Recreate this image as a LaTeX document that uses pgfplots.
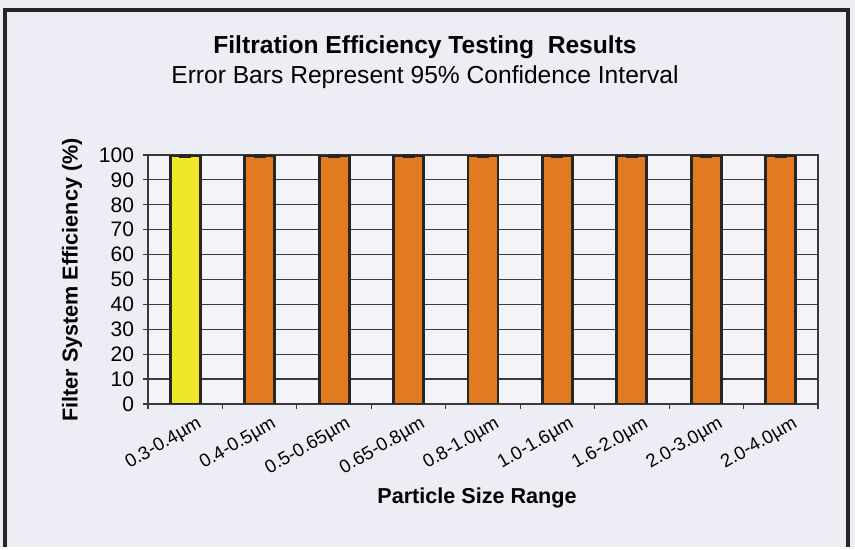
\documentclass[border=0pt]{standalone}
\usepackage{fontspec}
\setmainfont{Liberation Sans}
\usepackage{pgfplots}
\pgfplotsset{compat=1.18}
\definecolor{bgc}{HTML}{EDEEF5}
\definecolor{plotbg}{HTML}{F3F3F8}
\definecolor{baryellow}{HTML}{F0E62A}
\definecolor{barorange}{HTML}{E27A22}
\definecolor{gridc}{HTML}{3A3A3A}
\pgfplotsset{myerr/.style={error bars/.cd, y dir=both, y explicit,
  error bar style={line width=1.3pt, black!85},
  error mark options={line width=1.3pt, black!85, mark size=3pt, rotate=90}}}
\begin{document}
\begin{tikzpicture}
\fill[bgc] (0,0) rectangle (427.5pt,273.5pt);
\draw[line width=2.2pt, black!85] (2.5pt,0) -- (2.5pt,268.5pt) -- (424pt,268.5pt) -- (424pt,0);
\node[font=\bfseries\fontsize{12.3}{14}\selectfont] at (212.5pt,250pt) {Filtration Efficiency Testing\ \ Results};
\node[font=\fontsize{12.3}{14}\selectfont] at (212.5pt,235pt) {Error Bars Represent 95\% Confidence Interval};
\begin{axis}[
  at={(74pt,71.5pt)}, anchor=south west,
  scale only axis, width=335pt, height=124.5pt,
  xmin=-0.5, xmax=8.5, ymin=0, ymax=100,
  axis background/.style={fill=plotbg},
  axis line style={gridc, line width=0.6pt},
  ytick={0,10,...,100},
  ymajorgrids, grid style={gridc, line width=0.6pt},
  xtick={0,...,8},
  xticklabels={0.3-0.4µm,0.4-0.5µm,0.5-0.65µm,0.65-0.8µm,0.8-1.0µm,1.0-1.6µm,1.6-2.0µm,2.0-3.0µm,2.0-4.0µm},
  minor xtick={-0.5,0.5,...,8.5},
  xtick pos=bottom, ytick pos=left,
  major x tick style={draw=none},
  minor x tick style={gridc, line width=0.6pt},
  major y tick style={gridc, line width=0.6pt},
  tick align=outside, major tick length=2.5pt, minor tick length=2.5pt,
  /pgf/number format/assume math mode=true,
  yticklabel style={font=\fontsize{10.5}{12}\selectfont, xshift=-1pt},
  xticklabel style={font=\fontsize{9.3}{11}\selectfont, rotate=30, anchor=north east, xshift=6.5pt, yshift=-2pt},
  ybar, bar width=15pt, bar shift=0pt,
]
\addplot[fill=baryellow, draw=black!85, line width=1.4pt, myerr] coordinates {(0,99.6) +- (0,0.4)};
\addplot[fill=barorange, draw=black!85, line width=1.4pt, myerr] coordinates {
  (1,99.6) +- (0,0.4)
  (2,99.6) +- (0,0.4)
  (3,99.6) +- (0,0.4)
  (4,99.6) +- (0,0.4)
  (5,99.6) +- (0,0.4)
  (6,99.6) +- (0,0.4)
  (7,99.6) +- (0,0.4)
  (8,99.6) +- (0,0.4)
};
\end{axis}
\node[rotate=90, font=\bfseries\fontsize{10.8}{13}\selectfont] at (36pt,133.5pt) {Filter System Efficiency (\%)};
\node[font=\bfseries\fontsize{10.8}{13}\selectfont] at (238.5pt,24.5pt) {Particle Size Range};
\end{tikzpicture}
\end{document}
